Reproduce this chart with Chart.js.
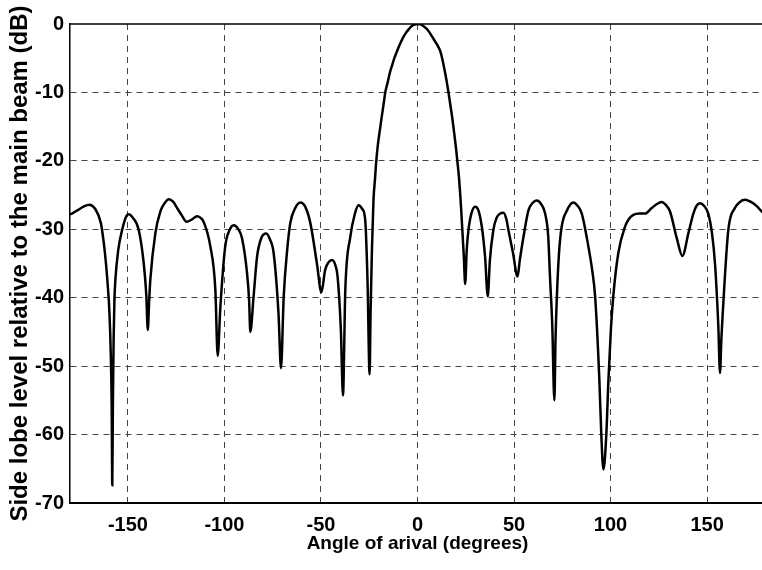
<!DOCTYPE html>
<html><head><meta charset="utf-8">
<script src="https://cdn.jsdelivr.net/npm/chart.js@4"></script>
<style>html,body{margin:0;padding:0;background:#fff;overflow:hidden;width:762px;height:570px}canvas{display:block}</style>
</head><body>
<canvas id="c" width="765" height="570"></canvas>
<script>
const angles = [
-180,-179,-176,-173,-170,-167,-164,-162.5,-161.4,-160.5,-159.6,-158.9,-158.4,-158.1,-157.8,-157.4,-157,-156.5,-155,-153,-151,-149.6,-147.5,-144.4,-141.8,-140.5,-139.7,-139,-138.4,-135.8,-133.2,-131,-128.9,-126.5,-124.5,-122,-119.7,-117,-114.2,-112.5,-110.8,-107.3,-104.7,-103.5,-102.1,-99.6,-97.5,-95.2,-93,-90.9,-88.3,-87.2,-86.6,-84.9,-83.1,-80.8,-78.3,-76.4,-74.5,-72,-70.7,-69.3,-67.5,-65.9,-63.5,-60.7,-58,-55.5,-52.1,-49.8,-47.8,-46,-44.3,-42.5,-41.4,-39.7,-38.6,-37.4,-34.8,-32.5,-30.5,-28.7,-27.1,-25.9,-24.8,-24.3,-23.6,
-22.8,-22,-21.4,-20.5,-19.5,-18.5,-17.5,-16.7,-15.5,-14.2,-13,-12,-10.5,-9,-7.5,-6,-4.5,-3,-1.5,0,
1.5,3,4.5,6,7.5,9,10.5,11.7,13,14,15,16,17,18,19,20,20.7,21.5,22.1,22.6,23.2,24,24.7,25.5,26.4,28,29.9,31.5,33.3,35,36.4,37.5,39.3,41,42.8,44.5,46,47.1,49.5,51.8,53,54.9,57.5,59.5,61.8,64,66.1,67.7,68.7,69.8,70.9,71.5,72.2,73.3,74.7,77.5,80.7,83,85.1,88.5,90.5,92,94.2,95.2,96.3,97.8,98.9,100.2,101.4,104,107.5,109.5,111.8,115,117.9,121.3,124,126.5,128.5,130.8,134.3,137.2,140.3,142.9,144.5,146.3,148.5,150.6,152.5,154.1,155.8,156.7,157.4,158.1,161,164.4,167,169.6,172,173.9,176,178.3,180
];
const levels = [
-27.8,-27.7,-27.2,-26.7,-26.4,-27.0,-29.1,-32,-34.9,-38,-42,-48,-56,-67.4,-56,-46,-40.5,-37.4,-33,-30.1,-28.2,-27.8,-28.3,-30.1,-35,-39.5,-44.7,-40.5,-37.4,-30.6,-27.4,-26.2,-25.6,-26,-26.9,-28,-28.9,-28.6,-28.1,-28.3,-28.9,-32.5,-38.9,-48.5,-41.3,-32.5,-30.2,-29.4,-29.9,-31.3,-36.4,-40.5,-45,-39.8,-34,-31.2,-30.6,-31.5,-33.5,-42.3,-50.3,-39.8,-33,-29.1,-27,-26.1,-26.8,-29.1,-35,-39.2,-35.9,-34.8,-34.5,-35.3,-36.9,-44.7,-54.3,-38.9,-31.1,-27.8,-26.5,-27,-28.6,-37.4,-51.2,-42,-33,
-25.7,-22.6,-20.2,-17.6,-15.5,-13.5,-11.6,-10,-8.6,-7,-5.9,-5,-3.9,-2.9,-2,-1.3,-0.75,-0.3,-0.07,0,
-0.06,-0.28,-0.65,-1.15,-1.8,-2.5,-3.2,-3.9,-5.3,-6.7,-8.2,-9.9,-11.8,-13.7,-15.9,-18.3,-20.2,-22.5,-24.8,-27,-30,-34,-38,-33,-30.1,-27.6,-26.7,-27.2,-29.6,-34,-39.8,-34.5,-30.1,-28.3,-27.7,-27.6,-28.5,-30.1,-33.5,-36.9,-34.5,-31.1,-27.2,-26.2,-25.8,-26.3,-27.7,-31,-37.4,-44,-55,-46,-39.8,-33.5,-29.6,-27.2,-26.1,-26.6,-27.7,-32.5,-36,-39.8,-52,-60,-65.1,-60,-52,-44.5,-39.8,-33.5,-29.6,-28.5,-27.9,-27.7,-27.7,-26.9,-26.3,-26,-26.4,-27.4,-31.3,-33.9,-30.6,-27.7,-26.6,-26.2,-26.6,-27.7,-30.5,-35,-44,-51,-46,-42.3,-30.1,-26.9,-26,-25.7,-25.9,-26.2,-26.7,-27.4,-27.6
];
const xTicks = [-150,-100,-50,0,50,100,150];
const yTicks = [-70,-60,-50,-40,-30,-20,-10,0];
const xTitle = 'Angle of arival (degrees)';
const yTitle = 'Side lobe level relative to the main beam (dB)';

const FAM = "Arial, 'Liberation Sans', sans-serif";
const points = angles.map((a,i)=>({x:a,y:levels[i]}));

const boxPlugin = {
  id:'box',
  afterDraw(chart){
    const {ctx, chartArea:a} = chart;
    ctx.save();
    ctx.strokeStyle='#000'; ctx.lineWidth=1.5;
    ctx.beginPath(); ctx.moveTo(a.left, a.top); ctx.lineTo(a.right, a.top); ctx.stroke();
    ctx.restore();
  }
};

new Chart(document.getElementById('c'), {
  type:'line',
  data:{datasets:[{data:points,borderColor:'#000',borderWidth:2.5,pointRadius:0,cubicInterpolationMode:'monotone',fill:false}]},
  options:{
    responsive:false, animation:false, devicePixelRatio:1,
    layout:{padding:{top:24,right:0,bottom:0,left:0}},
    plugins:{legend:{display:false},tooltip:{enabled:false}},
    scales:{
      x:{type:'linear',min:-180,max:180,
        afterBuildTicks:s=>{s.ticks=xTicks.map(v=>({value:v}));},
        afterFit:s=>{s.height=67;},
        grid:{color:'#444',lineWidth:1,drawTicks:false},
        border:{display:true,color:'#000',width:2,dash:[6,5]},
        ticks:{color:'#000',padding:10,font:{family:FAM,size:20,weight:'bold'},maxRotation:0},
        title:{display:true,text:xTitle,color:'#000',font:{family:FAM,size:19,weight:'bold'},padding:{top:0,bottom:15}}
      },
      y:{type:'linear',min:-70,max:0,
        afterBuildTicks:s=>{s.ticks=yTicks.map(v=>({value:v}));},
        afterFit:s=>{s.width=70;},
        grid:{color:c=>(c.tick&&(c.tick.value===0||c.tick.value===-70))?'rgba(0,0,0,0)':'#444',lineWidth:1,drawTicks:false},
        border:{display:true,color:'#000',width:1.5,dash:[6,5]},
        ticks:{color:'#000',padding:6,font:{family:FAM,size:20,weight:'bold'}},
        title:{display:true,text:yTitle,color:'#000',font:{family:FAM,size:24,weight:'bold'},padding:{top:6,bottom:0}}
      }
    }
  },
  plugins:[boxPlugin]
});
</script>
</body></html>
